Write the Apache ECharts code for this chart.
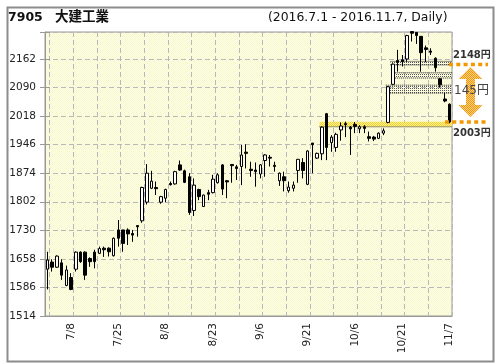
<!DOCTYPE html>
<html><head><meta charset="utf-8">
<script src="https://cdn.jsdelivr.net/npm/echarts@6/dist/echarts.min.js"></script>
<style>html,body{margin:0;padding:0;background:#fff}#c{width:496px;height:364px}</style>
</head><body><div id="c"></div>
<script>
const categories = ['7/1','7/4','7/5','7/6','7/7','7/8','7/11','7/12','7/13','7/14','7/15','7/19','7/20','7/21','7/22','7/25','7/26','7/27','7/28','7/29',
'8/1','8/2','8/3','8/4','8/5','8/8','8/9','8/10','8/12','8/15','8/16','8/17','8/18','8/19','8/22','8/23','8/24','8/25','8/26','8/29','8/30','8/31',
'9/1','9/2','9/5','9/6','9/7','9/8','9/9','9/12','9/13','9/14','9/15','9/16','9/20','9/21','9/23','9/26','9/27','9/28','9/29','9/30',
'10/3','10/4','10/5','10/6','10/7','10/11','10/12','10/13','10/14','10/17','10/18','10/19','10/20','10/21','10/24','10/25','10/26','10/27','10/28','10/31',
'11/1','11/2','11/4','11/7'];
const tickLabels = ['7/8','7/25','8/8','8/23','9/6','9/21','10/6','10/21','11/7'];
const opens = [1632,1650,1637,1648,1591,1611,1632,1675,1675,1659,1675,1672,1685,1685,1666,1731,1731,1731,1722,1742,
1754,1801,1836,1838,1801,1811,1848,1847,1895,1880,1865,1780,1833,1790,1825,1825,1850,1895,1855,1896,
1890,1891,1927,1884,1882,1872,1906,1914,1894,1855,1865,1830,1836,1881,1901,1846,1950,1912,1923,2024,
1951,1939,1983,1999,1990,1997,1986,1991,1966,1965,1962,1975,2002,2098,2158,2160,2162,2231,2229,2219,
2190,2182,2164,2112,2061,2048];
const closes = [1655,1637,1665,1617,1630,1581,1675,1651,1617,1651,1651,1684,1681,1676,1710,1710,1697,1721,1718,1739,
1838,1874,1854,1835,1815,1833,1845,1878,1882,1851,1775,1844,1815,1819,1821,1859,1870,1834,1852,1893,
1886,1920,1924,1881,1878,1895,1920,1912,1891,1874,1855,1839,1844,1909,1881,1930,1946,1924,1990,1939,
1965,1972,1993,1996,1986,1992,1991,1987,1962,1960,1975,1981,2092,2149,2154,2155,2221,2227,2221,2178,
2186,2179,2140,2097,2056,2003];
const lows = [1581,1626,1635,1605,1589,1579,1626,1648,1605,1638,1634,1670,1663,1664,1664,1689,1676,1693,1701,1714,
1749,1795,1834,1819,1797,1801,1843,1845,1880,1849,1769,1766,1806,1789,1806,1823,1848,1819,1811,1850,
1857,1844,1886,1865,1840,1861,1865,1891,1878,1842,1828,1825,1828,1850,1861,1844,1874,1910,1907,1907,
1928,1928,1956,1965,1920,1975,1975,1975,1954,1955,1960,1970,2000,2096,2130,2143,2155,2206,2200,2130,
2154,2172,2130,2090,2053,2000];
const highs = [1676,1657,1667,1657,1641,1622,1677,1677,1677,1662,1681,1689,1689,1687,1712,1756,1731,1735,1731,1742,
1840,1897,1880,1853,1817,1835,1853,1880,1906,1883,1874,1861,1835,1820,1832,1870,1874,1897,1857,1897,
1895,1945,1947,1903,1901,1897,1922,1920,1903,1876,1878,1853,1853,1910,1912,1932,1950,1926,1992,2026,
1970,1976,2002,2004,1993,2003,1995,1995,1979,1968,1977,1987,2094,2151,2185,2172,2223,2230,2230,2220,
2196,2189,2166,2114,2076,2050];
// price zones: start category index, low, high, kind
const zoneStart = [58, 72, 74, 73];
const zoneLow = [1991, 2076, 2114, 2147];
const zoneHigh = [2004, 2096, 2127, 2156];
const zoneKind = ['yellow', 'dots', 'dots', 'dots'];
const markHigh = 2148, markLow = 2003;
const yMin = 1514, yMax = 2230, yStep = 72;

const ohlc = opens.map((o, i) => [o, closes[i], lows[i], highs[i]]);

function pattern(c1, c2) {
  const cv = document.createElement('canvas');
  cv.width = 2; cv.height = 2;
  const ctx = cv.getContext('2d');
  if (c2) { ctx.fillStyle = c2; ctx.fillRect(0, 0, 2, 2); }
  ctx.fillStyle = c1; ctx.fillRect(0, 0, 1, 1); ctx.fillRect(1, 1, 1, 1);
  return { image: cv, repeat: 'repeat' };
}
function sparse(c1) {
  const cv = document.createElement('canvas');
  cv.width = 2; cv.height = 2;
  const ctx = cv.getContext('2d');
  ctx.fillStyle = c1; ctx.fillRect(0, 0, 1, 1);
  return { image: cv, repeat: 'repeat' };
}
const bgPat = pattern('#f6f6cf', '#ffffe6');
const yellowPat = pattern('#f5d31a', '#fdf1a8');
const dotPat = sparse('#555');
const orangePat = pattern('#f39800', '#fbd08a');

const FONT = "'DejaVu Sans', 'Noto Sans CJK JP', sans-serif";
const chart = echarts.init(document.getElementById('c'), null, { renderer: 'canvas' });
const tickFn = (i) => i % 5 === 1;

chart.setOption({
  animation: false,
  backgroundColor: '#fff',
  grid: { left: 45, right: 44, top: 32, bottom: 48, show: true, backgroundColor: bgPat, borderColor: '#999', borderWidth: 1 },
  xAxis: [{
    type: 'category', data: categories, boundaryGap: true,
    axisLine: { lineStyle: { color: '#999' } },
    axisTick: { interval: tickFn, length: 5, lineStyle: { color: '#999' } },
    axisLabel: { interval: (i, v) => tickLabels.includes(v), rotate: 90, margin: 7, color: '#222', fontSize: 10.5, fontFamily: FONT, padding: [5, 0, 0, 0] },
    splitLine: { show: true, interval: tickFn, lineStyle: { color: '#b8b8b8', type: [5, 3] } }
  }, {
    type: 'category', data: categories, boundaryGap: true, position: 'bottom',
    axisLine: { show: false }, axisLabel: { show: false }, splitLine: { show: false },
    axisTick: { interval: tickFn, inside: true, length: 4, lineStyle: { color: '#999' } }
  }],
  yAxis: [{
    type: 'value', min: yMin, max: yMax, interval: yStep, position: 'left',
    axisLine: { show: true, lineStyle: { color: '#999' } },
    axisTick: { show: true, length: 5, lineStyle: { color: '#999' } },
    axisLabel: { margin: 9, color: '#222', fontSize: 10.5, fontFamily: FONT,
      formatter: v => ((v - yMin) % yStep === 0 ? String(v) : '') },
    splitLine: { show: true, lineStyle: { color: '#b8b8b8', type: [5, 3] } }
  }, {
    type: 'value', min: yMin, max: yMax, interval: yStep, position: 'left',
    axisLine: { show: false }, axisLabel: { show: false }, splitLine: { show: false },
    axisTick: { show: true, inside: true, length: 5, lineStyle: { color: '#999' } }
  }],
  series: [{
    type: 'custom', z: 1, clip: true, silent: true,
    data: zoneStart.map((s, i) => [s, zoneLow[i], zoneHigh[i]]),
    renderItem(params, api) {
      const k = zoneKind[params.dataIndex];
      const s = api.value(0);
      const pT = api.coord([s, api.value(2)]);
      const pB = api.coord([s, api.value(1)]);
      const bw = api.size([1, 0])[0];
      const cs = params.coordSys;
      const x0 = pT[0] - bw / 2, x1 = cs.x + cs.width;
      const children = [{ type: 'rect', shape: { x: x0, y: pT[1], width: x1 - x0, height: pB[1] - pT[1] },
        style: { fill: k === 'yellow' ? yellowPat : dotPat } }];
      if (k === 'yellow') {
        children.push({ type: 'line', shape: { x1: x0, y1: pB[1], x2: x1, y2: pB[1] }, style: { stroke: '#333', lineWidth: 1, lineDash: [1, 1] } });
      } else {
        children.push({ type: 'line', shape: { x1: x0, y1: pT[1], x2: x1, y2: pT[1] }, style: { stroke: '#222', lineWidth: 1, lineDash: [1, 1] } });
        children.push({ type: 'line', shape: { x1: x0, y1: pB[1], x2: x1, y2: pB[1] }, style: { stroke: '#222', lineWidth: 1, lineDash: [1, 1] } });
      }
      return { type: 'group', children };
    }
  }, {
    type: 'candlestick', z: 3, data: ohlc, barWidth: 3,
    itemStyle: { color: '#fff', color0: '#000', borderColor: '#000', borderColor0: '#000', borderWidth: 1 },
    emphasis: { disabled: true }
  }, {
    type: 'custom', z: 4, clip: false, silent: true,
    data: [[categories.length - 1, markHigh, markLow]],
    renderItem(params, api) {
      const cs = params.coordSys;
      const xr = cs.x + cs.width;
      const yT = api.coord([api.value(0), api.value(1)])[1];
      const yB = api.coord([api.value(0), api.value(2)])[1];
      const cx = xr + 18.5;
      const tT = yT + 2.5, tB = yB - 5;
      const hH = 12, hW = 12, sW = 4.5;
      const pts = [[cx, tT], [cx + hW, tT + hH], [cx + sW, tT + hH], [cx + sW, tB - hH], [cx + hW, tB - hH], [cx, tB],
        [cx - hW, tB - hH], [cx - sW, tB - hH], [cx - sW, tT + hH], [cx - hW, tT + hH]];
      const diff = api.value(1) - api.value(2);
      return { type: 'group', children: [
        { type: 'polygon', shape: { points: pts }, style: { fill: orangePat } },
        { type: 'line', shape: { x1: xr - 3, y1: yT, x2: xr + 36, y2: yT }, style: { stroke: '#f39800', lineWidth: 3.5, lineDash: [4, 3.3] } },
        { type: 'line', shape: { x1: xr - 7, y1: yB, x2: xr + 36, y2: yB }, style: { stroke: '#f39800', lineWidth: 3.5, lineDash: [4, 3.3] } },
        { type: 'text', x: xr + 1, y: yT - 9.5, style: { text: api.value(1) + '円', fill: '#333', fontSize: 10, fontWeight: 'bold', fontFamily: FONT, verticalAlign: 'middle' } },
        { type: 'text', x: xr + 1, y: yB + 11, style: { text: api.value(2) + '円', fill: '#333', fontSize: 10, fontWeight: 'bold', fontFamily: FONT, verticalAlign: 'middle' } },
        { type: 'text', x: xr + 2, y: (yT + yB) / 2 - 2, style: { text: diff + '円', fill: '#444', fontSize: 12, fontFamily: FONT, verticalAlign: 'middle' } }
      ] };
    }
  }],
  graphic: [
    { type: 'rect', left: 5, top: 5, shape: { x: 0, y: 0, width: 486, height: 354 }, style: { fill: null, stroke: '#8c8c8c', lineWidth: 2 }, z: 10, silent: true },
    { type: 'text', left: 8, top: 11.5, style: { text: '7905', fill: '#111', fontSize: 12.5, fontWeight: 'bold', fontFamily: FONT } },
    { type: 'text', left: 55, top: 9.5, style: { text: '大建工業', fill: '#111', fontSize: 13.5, fontWeight: 'bold', fontFamily: "'Noto Sans CJK JP', sans-serif" } },
    { type: 'text', left: 268, top: 11.5, style: { text: '(2016.7.1 - 2016.11.7, Daily)', fill: '#111', fontSize: 12.4, fontFamily: FONT } }
  ]
});
</script></body></html>
